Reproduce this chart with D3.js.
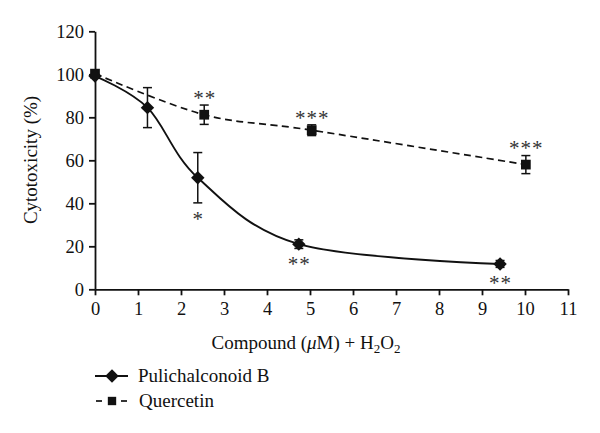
<!DOCTYPE html>
<html><head><meta charset="utf-8">
<script src="https://cdn.jsdelivr.net/npm/d3@7"></script>
<style>body{margin:0;background:#fff}svg{display:block}text{font-family:"Liberation Serif","Times New Roman",serif;fill:#111}</style>
</head><body><svg id="c" width="600" height="433"></svg>
<script>
const xTicks = [0,1,2,3,4,5,6,7,8,9,10,11];
const yTicks = [0,20,40,60,80,100,120];
const pulX = [0, 1.22, 2.39, 4.74, 9.42];
const pulY = [99.2, 84.5, 51.9, 21.0, 11.8];
const pulErr = [0, 9.3, 11.7, 2.0, 1.6];
const pulStars = [0, 0, 1, 2, 2];
const queX = [0, 2.54, 5.04, 10.02];
const queY = [100.3, 81.2, 74.0, 58.0];
const queErr = [0, 4.5, 2.5, 4.2];
const queStars = [0, 2, 3, 3];
const seriesNames = ["Pulichalconoid B", "Quercetin"];

const svg = d3.select("#c");
const m = {l:95, r:568, t:31.3, b:289.3};
const x = d3.scaleLinear().domain([0,11]).range([m.l, m.r]);
const y = d3.scaleLinear().domain([0,120]).range([m.b, m.t]);
const ink = "#111";

const gx = svg.append("g").attr("transform",`translate(0,${m.b})`)
  .call(d3.axisBottom(x).tickValues(xTicks).tickSize(6).tickPadding(7).tickSizeOuter(0));
const gy = svg.append("g").attr("transform",`translate(${m.l},0)`)
  .call(d3.axisLeft(y).tickValues(yTicks).tickSize(6).tickPadding(5).tickSizeOuter(0));
[gx,gy].forEach(g=>{
  g.selectAll("path,line").attr("stroke",ink).attr("stroke-width",1.8);
  g.selectAll("text").style("font-family",'"Liberation Serif",serif').style("font-size","18.5px").attr("fill",ink);
});

const pul = pulX.map((d,i)=>({x:d,y:pulY[i],e:pulErr[i],s:pulStars[i]}));
const que = queX.map((d,i)=>({x:d,y:queY[i],e:queErr[i],s:queStars[i]}));

const line = d3.line().x(d=>x(d.x)).y(d=>y(d.y)).curve(d3.curveCatmullRom.alpha(0));
svg.append("path").datum(que).attr("d",line).attr("fill","none").attr("stroke",ink)
  .attr("stroke-width",1.7).attr("stroke-dasharray","7,4.5");
svg.append("path").datum(pul).attr("d",line).attr("fill","none").attr("stroke",ink).attr("stroke-width",1.9);

function errBars(data){
  const g = svg.append("g").attr("stroke",ink).attr("stroke-width",1.5);
  data.filter(d=>d.e>0).forEach(d=>{
    g.append("line").attr("x1",x(d.x)).attr("x2",x(d.x)).attr("y1",y(d.y+d.e)).attr("y2",y(d.y-d.e));
    [d.y+d.e,d.y-d.e].forEach(v=>g.append("line").attr("x1",x(d.x)-4.5).attr("x2",x(d.x)+4.5).attr("y1",y(v)).attr("y2",y(v)));
  });
}
errBars(que); errBars(pul);

const diamond = d3.symbol().type(d3.symbolDiamond2).size(115);
const square = d3.symbol().type(d3.symbolSquare).size(95);
svg.append("g").selectAll("path").data(que).join("path")
  .attr("d",square).attr("transform",d=>`translate(${x(d.x)},${y(d.y)})`).attr("fill",ink);
svg.append("g").selectAll("path").data(pul).join("path")
  .attr("d",diamond).attr("transform",d=>`translate(${x(d.x)},${y(d.y)})`).attr("fill",ink);

// significance stars: quercetin above error bar, pulichalconoid below
const starFs = 21;
function stars(data, above){
  data.filter(d=>d.s>0).forEach(d=>{
    const cy = above ? y(d.y+d.e)-9 : y(d.y-d.e)+14;
    for(let k=0;k<d.s;k++){
      const cx = x(d.x) + (k-(d.s-1)/2)*11.5;
      svg.append("text").attr("x",cx).attr("y",cy+0.42*starFs).attr("text-anchor","middle")
        .style("font-size",starFs+"px").style("fill","#333").text("*");
    }
  });
}
stars(que,true); stars(pul,false);

// axis titles
const xt = svg.append("text").attr("x",306).attr("y",349).attr("text-anchor","middle").style("font-size","19px");
xt.append("tspan").text("Compound (");
xt.append("tspan").style("font-style","italic").text("μ");
xt.append("tspan").text("M) + H");
xt.append("tspan").attr("dy",4).style("font-size","13px").text("2");
xt.append("tspan").attr("dy",-4).text("O");
xt.append("tspan").attr("dy",4).style("font-size","13px").text("2");
svg.append("text").attr("transform","translate(37,160) rotate(-90)").attr("text-anchor","middle")
  .style("font-size","19px").text("Cytotoxicity (%)");

// legend
const lg = svg.append("g");
lg.append("line").attr("x1",95).attr("x2",128).attr("y1",376).attr("y2",376).attr("stroke",ink).attr("stroke-width",1.9);
lg.append("path").attr("d",diamond).attr("transform","translate(112,376)").attr("fill",ink);
lg.append("text").attr("x",138).attr("y",382).style("font-size","19px").text(seriesNames[0]);
[[96,102],[121,127]].forEach(s=>lg.append("line").attr("x1",s[0]).attr("x2",s[1]).attr("y1",401).attr("y2",401).attr("stroke",ink).attr("stroke-width",1.7));
lg.append("path").attr("d",d3.symbol().type(d3.symbolSquare).size(70)).attr("transform","translate(112,401)").attr("fill",ink);
lg.append("text").attr("x",139).attr("y",407).style("font-size","19px").text(seriesNames[1]);
</script></body></html>
